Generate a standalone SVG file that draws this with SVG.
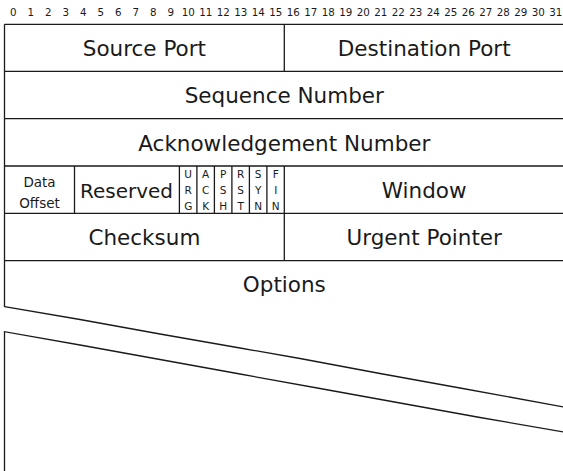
<svg xmlns="http://www.w3.org/2000/svg" width="563" height="471" viewBox="0 0 563 471">
  <style>
    .ln { fill: none; stroke: #1a1a1a; stroke-width: 1.3; }
    .lbl { font-family: "DejaVu Sans", "Liberation Sans", sans-serif; font-size: 21.5px; fill: #1a1a1a; text-anchor: middle; }
    .bit { font-family: "DejaVu Sans", "Liberation Sans", sans-serif; font-size: 10.3px; fill: #1a1a1a; text-anchor: middle; }
    .flag { font-family: "DejaVu Sans", "Liberation Sans", sans-serif; font-size: 10.5px; fill: #1a1a1a; text-anchor: middle; }
    .small { font-family: "DejaVu Sans", "Liberation Sans", sans-serif; font-size: 13.5px; fill: #1a1a1a; text-anchor: middle; }
  </style>
  <rect width="563" height="471" fill="#ffffff"/>

  <!-- bit numbering -->
  <g id="bit-numbers">
    <text class="bit" x="13.2" y="16">0</text>
    <text class="bit" x="30.7" y="16">1</text>
    <text class="bit" x="48.2" y="16">2</text>
    <text class="bit" x="65.7" y="16">3</text>
    <text class="bit" x="83.2" y="16">4</text>
    <text class="bit" x="100.7" y="16">5</text>
    <text class="bit" x="118.2" y="16">6</text>
    <text class="bit" x="135.7" y="16">7</text>
    <text class="bit" x="153.2" y="16">8</text>
    <text class="bit" x="170.7" y="16">9</text>
    <text class="bit" x="188.2" y="16">10</text>
    <text class="bit" x="205.7" y="16">11</text>
    <text class="bit" x="223.2" y="16">12</text>
    <text class="bit" x="240.7" y="16">13</text>
    <text class="bit" x="258.2" y="16">14</text>
    <text class="bit" x="275.7" y="16">15</text>
    <text class="bit" x="293.2" y="16">16</text>
    <text class="bit" x="310.7" y="16">17</text>
    <text class="bit" x="328.2" y="16">18</text>
    <text class="bit" x="345.7" y="16">19</text>
    <text class="bit" x="363.2" y="16">20</text>
    <text class="bit" x="380.7" y="16">21</text>
    <text class="bit" x="398.2" y="16">22</text>
    <text class="bit" x="415.7" y="16">23</text>
    <text class="bit" x="433.2" y="16">24</text>
    <text class="bit" x="450.7" y="16">25</text>
    <text class="bit" x="468.2" y="16">26</text>
    <text class="bit" x="485.7" y="16">27</text>
    <text class="bit" x="503.2" y="16">28</text>
    <text class="bit" x="520.7" y="16">29</text>
    <text class="bit" x="538.2" y="16">30</text>
    <text class="bit" x="555.7" y="16">31</text>
  </g>

  <!-- field grid lines -->
  <g id="grid">
    <path class="ln" d="M4.5 24.3 H564 M4.5 71.3 H564 M4.5 118.6 H564 M4.5 166 H564 M4.5 213.3 H564 M4.5 260.6 H564"/>
    <path class="ln" d="M4.5 24.3 V307"/>
    <path class="ln" d="M284.3 24.3 V71.3 M284.3 166 V260.6"/>
    <path class="ln" d="M74.5 166 V213.3 M179.4 166 V213.3 M196.9 166 V213.3 M214.4 166 V213.3 M231.9 166 V213.3 M249.4 166 V213.3 M266.9 166 V213.3"/>
  </g>

  <!-- skipped words break -->
  <g id="break">
    <path class="ln" d="M4.5 306.7 L80 319.5 L160 334 L240 348 L300 358.5 L380 373.5 L460 388 L564 407"/>
    <path class="ln" d="M4.5 471 V331.7 L80 345 L160 359.5 L240 374 L320 388.5 L400 403 L480 417.5 L564 432"/>
  </g>

  <g id="source-port"><text class="lbl" x="144.4" y="55.5">Source Port</text></g>
  <g id="destination-port"><text class="lbl" x="424.2" y="55.5">Destination Port</text></g>
  <g id="sequence-number"><text class="lbl" x="284.3" y="103">Sequence Number</text></g>
  <g id="ack-number"><text class="lbl" x="284.3" y="150.5">Acknowledgement Number</text></g>
  <g id="data-offset">
    <text class="small" x="39.5" y="186.5">Data</text>
    <text class="small" x="39.5" y="207.5">Offset</text>
  </g>
  <g id="reserved"><text class="lbl" x="126.5" y="197.5" style="font-size:20px">Reserved</text></g>
  <g id="flag-urg">
    <text class="flag" x="188.2" y="178">U</text><text class="flag" x="188.2" y="193.5">R</text><text class="flag" x="188.2" y="209.5">G</text>
  </g>
  <g id="flag-ack">
    <text class="flag" x="205.7" y="178">A</text><text class="flag" x="205.7" y="193.5">C</text><text class="flag" x="205.7" y="209.5">K</text>
  </g>
  <g id="flag-psh">
    <text class="flag" x="223.2" y="178">P</text><text class="flag" x="223.2" y="193.5">S</text><text class="flag" x="223.2" y="209.5">H</text>
  </g>
  <g id="flag-rst">
    <text class="flag" x="240.7" y="178">R</text><text class="flag" x="240.7" y="193.5">S</text><text class="flag" x="240.7" y="209.5">T</text>
  </g>
  <g id="flag-syn">
    <text class="flag" x="258.2" y="178">S</text><text class="flag" x="258.2" y="193.5">Y</text><text class="flag" x="258.2" y="209.5">N</text>
  </g>
  <g id="flag-fin">
    <text class="flag" x="275.7" y="178">F</text><text class="flag" x="275.7" y="193.5">I</text><text class="flag" x="275.7" y="209.5">N</text>
  </g>
  <g id="window"><text class="lbl" x="424.2" y="197.5">Window</text></g>
  <g id="checksum"><text class="lbl" x="144.4" y="245">Checksum</text></g>
  <g id="urgent-pointer"><text class="lbl" x="424.2" y="245">Urgent Pointer</text></g>
  <g id="options"><text class="lbl" x="284.3" y="291.5">Options</text></g>
</svg>
